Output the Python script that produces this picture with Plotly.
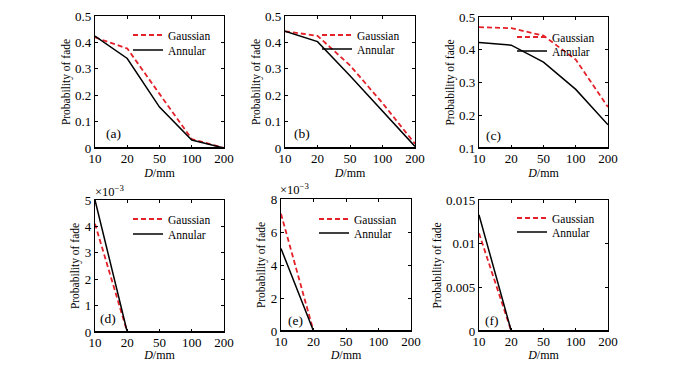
import plotly.graph_objects as go

# page has an 8px body margin; lay out in page pixels and convert
PAGE_W, PAGE_H = 687, 370
OFF = 8
FW, FH = PAGE_W - 2 * OFF, PAGE_H - 2 * OFF

D_LABELS = ["10", "20", "50", "100", "200"]

gauss_a = [0.419, 0.377, 0.205, 0.034, 0.0]
annul_a = [0.424, 0.339, 0.155, 0.030, 0.0]
gauss_b = [0.442, 0.425, 0.313, 0.170, 0.016]
annul_b = [0.442, 0.403, 0.274, 0.138, 0.006]
gauss_c = [0.469, 0.466, 0.443, 0.370, 0.225]
annul_c = [0.422, 0.414, 0.362, 0.279, 0.171]
gauss_d = [0.0041, 0.0, 0.0, 0.0, 0.0]
annul_d = [0.0050, 0.0, 0.0, 0.0, 0.0]
gauss_e = [0.0071, 0.0, 0.0, 0.0, 0.0]
annul_e = [0.0050, 0.0, 0.0, 0.0, 0.0]
gauss_f = [0.0112, 0.0, 0.0, 0.0, 0.0]
annul_f = [0.0133, 0.0, 0.0, 0.0, 0.0]

panel_labels = ["(a)", "(b)", "(c)", "(d)", "(e)", "(f)"]
y_ranges = [[0, 0.5], [0, 0.5], [0.1, 0.5], [0, 0.005], [0, 0.008], [0, 0.015]]
y_tickvals = [
    [0, 0.1, 0.2, 0.3, 0.4, 0.5],
    [0, 0.1, 0.2, 0.3, 0.4, 0.5],
    [0.1, 0.2, 0.3, 0.4, 0.5],
    [0, 0.001, 0.002, 0.003, 0.004, 0.005],
    [0, 0.002, 0.004, 0.006, 0.008],
    [0, 0.005, 0.01, 0.015],
]
y_ticktext = [
    ["0", "0.1", "0.2", "0.3", "0.4", "0.5"],
    ["0", "0.1", "0.2", "0.3", "0.4", "0.5"],
    ["0.1", "0.2", "0.3", "0.4", "0.5"],
    ["0", "1", "2", "3", "4", "5"],
    ["0", "2", "4", "6", "8"],
    ["0", "0.005", "0.01", "0.015"],
]

gauss = [gauss_a, gauss_b, gauss_c, gauss_d, gauss_e, gauss_f]
annul = [annul_a, annul_b, annul_c, annul_d, annul_e, annul_f]

# axes boxes in page pixels: (left, right, top, bottom)
boxes = [
    (95, 224, 16, 148),
    (285, 415, 16, 148),
    (479, 608, 17, 148),
    (95, 224, 200, 332),
    (281, 411, 199, 331),
    (479, 608, 200, 331),
]
# legend: (line start x, Gaussian centre y, Annular centre y)
legend_pos = [(133, 35, 50), (322, 35, 49), (517, 37, 51),
              (133, 219, 234), (319, 219, 233), (517, 218, 232)]
label_pos = [(113, 133), (302, 133), (493, 135), (108, 318), (295, 320), (492, 320)]


def fx(px):
    return (px - OFF) / FW


def fy(py):
    return 1 - (py - OFF) / FH


FONT = "Liberation Serif"
RED = "rgb(228,32,40)"

fig = go.Figure()
layout = dict(
    width=FW, height=FH, margin=dict(l=0, r=0, t=0, b=0, autoexpand=False),
    paper_bgcolor="white", plot_bgcolor="rgba(0,0,0,0)",
    font=dict(family=FONT, size=12, color="black"),
    annotations=[], shapes=[], showlegend=True,
)

for i in range(6):
    ax = "" if i == 0 else str(i + 1)
    leg_g = "legend" if i == 0 else f"legend{2 * i + 1}"
    leg_a = f"legend{2 * i + 2}"
    fig.add_trace(go.Scatter(
        x=D_LABELS, y=gauss[i], mode="lines", name="Gaussian",
        line=dict(color=RED, width=1.8, dash="5px,3px"),
        xaxis="x" + ax, yaxis="y" + ax, legend=leg_g,
    ))
    fig.add_trace(go.Scatter(
        x=D_LABELS, y=annul[i], mode="lines", name="Annular",
        line=dict(color="black", width=1.5),
        xaxis="x" + ax, yaxis="y" + ax, legend=leg_a,
    ))
    l, r, t, b = boxes[i]
    common = dict(showline=True, linecolor="black", linewidth=1.2, mirror="allticks",
                  ticks="inside", ticklen=3, tickcolor="black", showgrid=False,
                  zeroline=False, tickfont=dict(family=FONT, size=13),
                  automargin=False, layer="above traces")
    layout["xaxis" + ax] = dict(
        common, type="category", range=[0, 4], domain=[fx(l), fx(r)],
        anchor="y" + ax, ticklabelstandoff=-2,
        title=dict(text="<i>D</i>/mm", font=dict(family=FONT, size=12), standoff=1),
    )
    layout["yaxis" + ax] = dict(
        common, range=y_ranges[i], domain=[fy(b), fy(t)],
        anchor="x" + ax, tickvals=y_tickvals[i], ticktext=y_ticktext[i],
        title=dict(text="Probability of fade", font=dict(family=FONT, size=11.5), standoff=2),
    )
    # bottom frame edge drawn over the traces (lines lying on zero hide under it)
    layout["shapes"].append(dict(
        type="line", xref="paper", yref="paper", layer="above",
        x0=fx(l), x1=fx(r), y0=fy(b), y1=fy(b),
        line=dict(color="black", width=1.8),
    ))
    lx, gy, ay = legend_pos[i]
    for leg, cy in ((leg_g, gy), (leg_a, ay)):
        layout[leg] = dict(
            x=fx(lx - 5), y=fy(cy), xanchor="left", yanchor="middle",
            bgcolor="rgba(0,0,0,0)", borderwidth=0,
            font=dict(family=FONT, size=11.5), itemwidth=30,
        )
    px, py = label_pos[i]
    layout["annotations"].append(dict(
        x=fx(px), y=fy(py), xref="paper", yref="paper", text=panel_labels[i],
        xanchor="center", yanchor="middle",
        showarrow=False, font=dict(family=FONT, size=13.5),
    ))

for (px, py) in [(109, 191), (294, 189)]:
    layout["annotations"].append(dict(
        x=fx(px), y=fy(py), xref="paper", yref="paper",
        xanchor="center", yanchor="middle",
        text="×10<sup>−3</sup>", showarrow=False, font=dict(family=FONT, size=12.5),
    ))

fig.update_layout(**layout)
fig.write_html("out.html")
